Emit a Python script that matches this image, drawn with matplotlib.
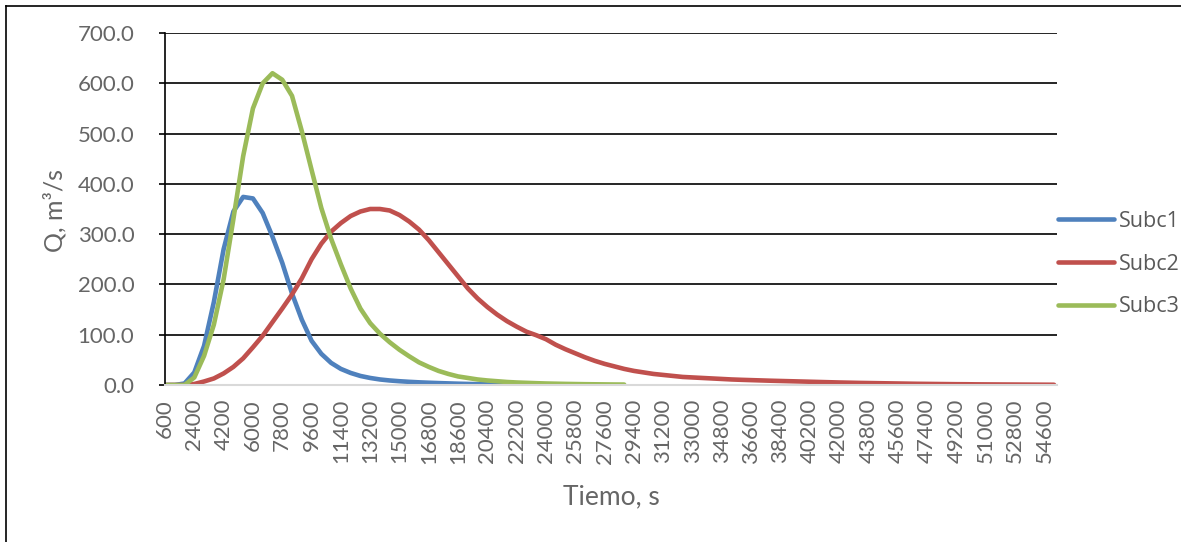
import matplotlib.pyplot as plt
from matplotlib.lines import Line2D

# time steps (s), category axis
tiempo = list(range(600, 55201, 600))

subc1 = [0, 0, 3, 25, 78, 165, 270, 345, 374, 371, 342, 295, 243, 182, 130, 88, 62, 44,
         32, 24, 18, 14, 11, 9, 7.5, 6.3, 5.3, 4.5, 3.8, 3.2, 2.6, 2.1, 1.7, 1.3, 1.0, 0.7]

subc2 = [0, 0, 0, 2, 7, 13, 23, 36, 53, 75, 98, 125, 152, 180, 212, 250, 281, 305,
         322, 336, 345, 350, 350, 347, 338, 325, 309, 288, 264, 240, 216, 192, 172, 155,
         140, 127, 116, 106, 99, 91, 80, 71, 63, 55, 48, 42, 37, 32, 28, 25, 22, 20,
         18, 16, 15, 14, 13, 12, 11, 10.3, 9.7, 9.1, 8.5, 8.0, 7.5, 7.0, 6.5, 6.0, 5.5,
         5.0, 4.6, 4.2, 3.9, 3.6, 3.3, 3.0, 2.7, 2.4, 2.2, 2.0, 1.8, 1.6, 1.5, 1.3, 1.2,
         1.1, 1.0, 0.9, 0.8, 0.7, 0.6, 0.5]

subc3 = [0, 0, 0, 15, 58, 120, 210, 330, 455, 550, 600, 620, 607, 575, 505, 428, 352,
         291, 240, 192, 152, 123, 102, 85, 70, 57, 45, 36, 28, 22, 17, 14, 11, 9, 7.5,
         6, 5, 4.3, 3.6, 3.0, 2.6, 2.2, 1.9, 1.6, 1.4, 1.2, 1.0, 0.9]

series = [("Subc1", subc1, "#4F81BD"), ("Subc2", subc2, "#C0504D"), ("Subc3", subc3, "#9BBB59")]

plt.rcParams['font.family'] = ['Lato', 'DejaVu Sans']
W, H = 1181, 542
fig = plt.figure(figsize=(W / 100, H / 100), dpi=100)
ax = fig.add_axes([165 / W, 1 - 385 / H, (1057 - 165) / W, (385 - 33) / H])

for name, vals, col in series:
    ax.plot(range(len(vals)), vals, color=col, lw=3.3, label=name, solid_capstyle='round')

ax.set_xlim(0, 91.3)
ax.set_ylim(0, 700)
ax.set_yticks(range(0, 701, 100))
ax.set_yticklabels([f"{v:.1f}" for v in range(0, 701, 100)])
xt = list(range(0, len(tiempo), 3))
ax.set_xticks(xt)
ax.set_xticklabels([str(tiempo[i]) for i in xt], rotation=90)

ax.grid(axis='y', color='black', lw=1.2)
ax.set_axisbelow(True)
for s in ['top', 'right']:
    ax.spines[s].set_visible(False)
ax.spines['left'].set_color('black')
ax.spines['left'].set_linewidth(1.2)
ax.spines['bottom'].set_color('#d9d9d9')
ax.spines['bottom'].set_linewidth(1.5)
ax.tick_params(axis='y', length=4, width=1.2, color='black', pad=18,
               labelsize=16, labelcolor='#666666')
ax.tick_params(axis='x', length=0, pad=10, labelsize=16, labelcolor='#666666')

fig.text(55 / W, 1 - 211 / H, "Q, m³/s", rotation=90, ha='center', va='center',
         fontsize=18, color='#666666')
fig.text(611 / W, 1 - 497 / H, "Tiemo, s", ha='center', va='center',
         fontsize=19, color='#666666')

ax.legend(loc='upper left', bbox_to_anchor=(1058 / W, 1 - 211 / H), bbox_transform=fig.transFigure,
          frameon=False, handlelength=2.6, handletextpad=0.25,
          labelspacing=1.0, labelcolor='#595959', borderaxespad=0, borderpad=0,
          prop={'family': ['Open Sans', 'DejaVu Sans'], 'size': 15.5})

# outer chart border (left and top edges visible)
fig.add_artist(Line2D([6 / W, 6 / W], [0, 1 - 6 / H], color='black', lw=1.2))
fig.add_artist(Line2D([6 / W, 1], [1 - 6 / H, 1 - 6 / H], color='black', lw=1.2))

fig.savefig('out.png', dpi=100)
